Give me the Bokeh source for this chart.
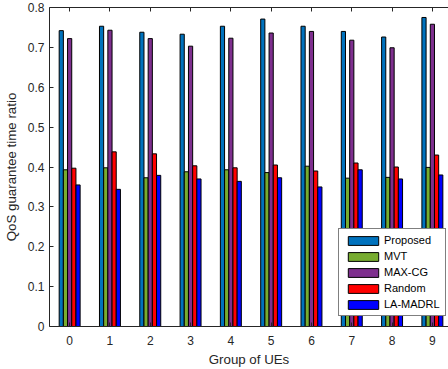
from bokeh.plotting import figure
from bokeh.models import Range1d, FixedTicker, LinearAxis, Legend, LegendItem, ColumnDataSource
from bokeh.transform import dodge
from bokeh.embed import file_html
from bokeh.resources import INLINE

groups = [0, 1, 2, 3, 4, 5, 6, 7, 8, 9]
series_names = ["Proposed", "MVT", "MAX-CG", "Random", "LA-MADRL"]
proposed = [0.742, 0.753, 0.738, 0.733, 0.753, 0.771, 0.753, 0.740, 0.726, 0.775]
mvt      = [0.393, 0.398, 0.373, 0.388, 0.393, 0.386, 0.402, 0.372, 0.374, 0.399]
max_cg   = [0.722, 0.743, 0.722, 0.703, 0.723, 0.736, 0.740, 0.718, 0.699, 0.758]
random_  = [0.397, 0.438, 0.433, 0.403, 0.398, 0.405, 0.390, 0.410, 0.400, 0.430]
la_madrl = [0.355, 0.344, 0.379, 0.370, 0.364, 0.373, 0.350, 0.393, 0.370, 0.380]
colors = ["#0072BD", "#77AC30", "#7E2F8E", "#FF0000", "#0000FF"]
y_ticks = [0, 0.1, 0.2, 0.3, 0.4, 0.5, 0.6, 0.7, 0.8]

src = ColumnDataSource(dict(g=groups, s0=proposed, s1=mvt, s2=max_cg, s3=random_, s4=la_madrl))

FONT = "Liberation Sans"
AX = "#262626"

p = figure(width=448, height=369, output_backend="svg", toolbar_location=None,
           x_range=Range1d(-0.5, 9.4), y_range=Range1d(0, 0.8),
           min_border_left=49, min_border_right=0, min_border_top=7, min_border_bottom=43)
p.outline_line_color = None
p.grid.visible = False
p.background_fill_color = "white"

bw = 0.104
items = []
for i, name in enumerate(series_names):
    r = p.vbar(x=dodge("g", (i - 2) * bw, range=p.x_range), top="s%d" % i, width=bw,
               bottom=0, source=src, fill_color=colors[i], line_color="black", line_width=1)
    items.append(LegendItem(label=name, renderers=[r]))

legend = Legend(items=items, location=(289, 10), glyph_width=38, glyph_height=11,
                label_height=11, label_text_font=FONT, label_text_font_size="11px",
                label_text_color="black", padding=5, spacing=4, label_standoff=2,
                border_line_color="black", border_line_width=1, background_fill_alpha=1)
p.add_layout(legend, "center")

for ax in [p.xaxis[0], p.yaxis[0]]:
    ax.major_tick_in = 4
    ax.major_tick_out = 0
    ax.minor_tick_line_color = None
    ax.axis_line_color = AX
    ax.major_tick_line_color = AX
    ax.major_label_text_color = AX
    ax.major_label_text_font = FONT
    ax.major_label_text_font_size = "12px"
    ax.axis_label_text_font = FONT
    ax.axis_label_text_font_size = "13.3px"
    ax.axis_label_text_font_style = "normal"
    ax.axis_label_text_color = AX

p.xaxis.ticker = FixedTicker(ticks=groups)
p.xaxis.axis_label = "Group of UEs"
p.xaxis.major_label_standoff = 9
p.xaxis.axis_label_standoff = 4
p.yaxis.ticker = FixedTicker(ticks=y_ticks)
p.yaxis.major_label_overrides = {0: "0"}
p.yaxis.axis_label = "QoS guarantee time ratio"
p.yaxis.major_label_standoff = 5
p.yaxis.axis_label_standoff = 6

top = LinearAxis(ticker=FixedTicker(ticks=groups), major_tick_in=4, major_tick_out=0,
                 minor_tick_line_color=None, axis_line_color=AX, major_tick_line_color=AX,
                 major_label_text_font_size="1px", major_label_text_alpha=0,
                 major_label_standoff=0)
p.add_layout(top, "above")

open("out.html", "w").write(file_html(p, INLINE))
